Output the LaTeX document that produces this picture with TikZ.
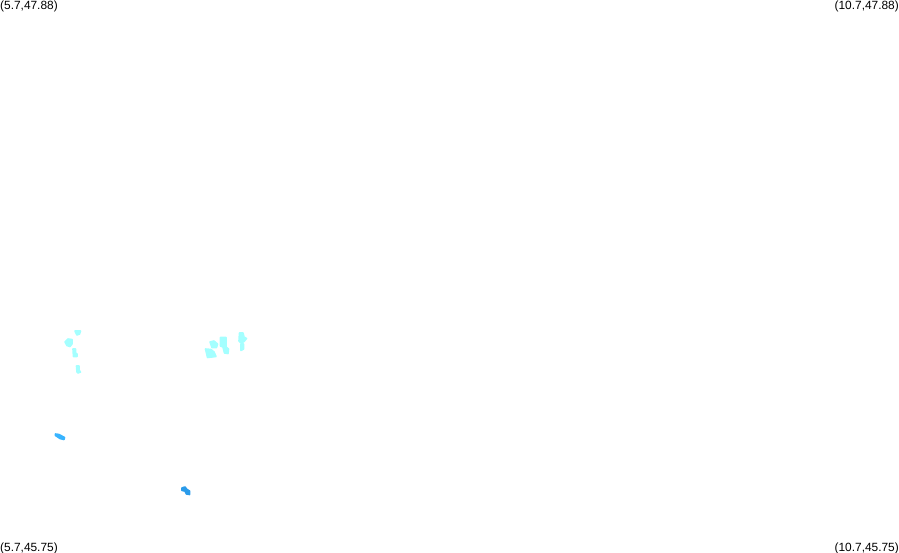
\documentclass[tikz,border=0pt]{standalone}
\usepackage{xcolor}
\usepackage{fontspec}
\setmainfont{Liberation Sans}
\definecolor{lightcyan}{HTML}{A4FFFF}
\definecolor{midblue}{HTML}{38B4FF}
\definecolor{deepblue}{HTML}{2A9BEA}
\tikzset{corner/.style={inner sep=0pt,font=\fontsize{11.9}{13}\selectfont},
  patch/.style={line width=1.6pt,line join=round,draw=#1,fill=#1}}
\begin{document}
\begin{tikzpicture}[x=1pt,y=-1pt]
\useasboundingbox (0,0) rectangle (899,552);
% left group
\fill[patch=lightcyan] (75,331) -- (80.5,331) -- (79.5,334) -- (77,335) -- cycle;
\fill[patch=lightcyan] (65,342) -- (68,339) -- (72,339.5) -- (72,344) -- (70,346.5) -- (67,345.5) -- cycle;
\fill[patch=lightcyan] (73,349) -- (75.5,349) -- (75.5,353) -- (77,354) -- (77,356.5) -- (73.5,356.5) -- cycle;
\fill[patch=lightcyan] (76.5,366) -- (79,366) -- (79,370) -- (80.5,372) -- (78,373) -- (77,372) -- cycle;
% right group
\fill[patch=lightcyan] (205.5,349) -- (211,349.5) -- (214,352) -- (216,356.5) -- (207.5,357.5) -- (206.5,353) -- cycle;
\fill[patch=lightcyan] (210,342) -- (214,341) -- (217.5,344) -- (216.5,347.5) -- (212,347.5) -- cycle;
\fill[patch=lightcyan] (220.5,337.5) -- (226,337.5) -- (226,347) -- (228.5,349) -- (228,353.5) -- (224.5,353) -- (223,347) -- (220.5,346) -- cycle;
\fill[patch=lightcyan] (239.5,333) -- (243,333) -- (244,337) -- (246.5,338.5) -- (244,341.5) -- (241,343) -- (239,341) -- cycle;
\fill[patch=lightcyan] (241,344) -- (243.5,344) -- (243.5,349) -- (241,350.5) -- cycle;
% blue patches
\fill[patch=midblue] (55.5,434) -- (59,434.5) -- (64.5,437.5) -- (64,439.5) -- (60,438.5) -- (55.5,435.5) -- cycle;
\fill[patch=deepblue] (182,488) -- (185,487) -- (187,489.5) -- (189.5,491) -- (189.5,494.5) -- (186.5,494) -- (185,491) -- (182,490.5) -- cycle;
% corner labels
\node[corner,anchor=base west] (topleft) at (0,9) {(5.7,47.88)};
\node[corner,anchor=base east] (topright) at (899,9) {(10.7,47.88)};
\node[corner,anchor=base west] (bottomleft) at (0,551) {(5.7,45.75)};
\node[corner,anchor=base east] (bottomright) at (899,551) {(10.7,45.75)};
\end{tikzpicture}
\end{document}
